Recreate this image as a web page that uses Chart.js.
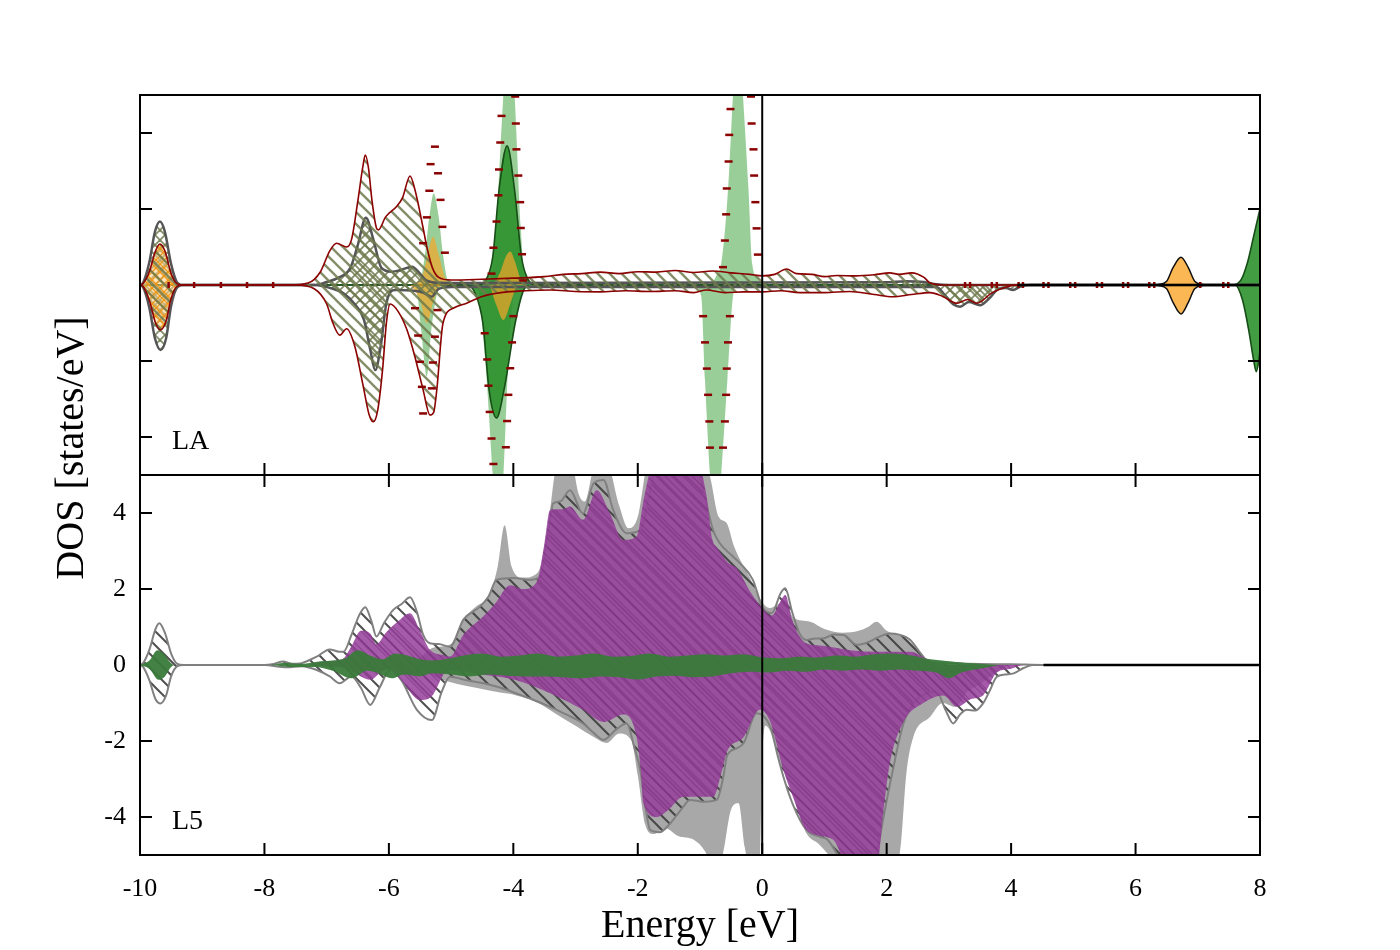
<!DOCTYPE html>
<html><head><meta charset="utf-8">
<script src="https://cdn.jsdelivr.net/npm/chart.js@4.4.1/dist/chart.umd.min.js"></script>
<style>
html,body{margin:0;padding:0;background:#fff;}
#wrap{position:relative;width:1400px;height:950px;overflow:hidden;}
canvas{position:absolute;left:0;top:0;}
.lbl{position:absolute;font-family:"Liberation Serif","Times New Roman",serif;color:#000;white-space:nowrap;}
</style></head><body>
<div id="wrap">
<canvas id="cTop" width="1400" height="950"></canvas>
<canvas id="cBot" width="1400" height="950"></canvas>
<div class="lbl" style="left:-80px;top:424px;width:300px;height:48px;line-height:48px;text-align:center;font-size:40px;transform:rotate(-90deg);">DOS [states/eV]</div>
<div class="lbl" style="left:172px;top:423px;font-size:28px;line-height:34px;">LA</div>
<div class="lbl" style="left:172px;top:803px;font-size:28px;line-height:34px;">L5</div>
</div>
<script>
// ---------- tick values ----------
const xTicks = [-10, -8, -6, -4, -2, 0, 2, 4, 6, 8];
const yTicks = [-4, -2, 0, 2, 4];

// ---------- LA panel (top) ----------
const laTotUp = [[-10,0],[-9.95,0.04],[-9.85,0.35],[-9.75,0.9],[-9.68,1.08],[-9.6,0.9],[-9.5,0.3],[-9.4,0.03],[-9.3,0],[-7.6,0],[-7.3,0.05],[-7.1,0.35],[-6.95,0.9],[-6.84,1.1],[-6.68,1.0],[-6.6,1.2],[-6.5,2.2],[-6.42,3.1],[-6.38,3.42],[-6.33,3.1],[-6.27,2.2],[-6.2,1.5],[-6.17,1.45],[-6.05,1.8],[-5.88,2.06],[-5.78,2.3],[-5.66,2.87],[-5.58,2.5],[-5.45,1.5],[-5.39,1.0],[-5.3,0.45],[-5.2,0.2],[-5.0,0.13],[-4.5,0.15],[-4.0,0.18],[-3.5,0.22],[-3.2,0.28],[-2.9,0.3],[-2.6,0.34],[-2.3,0.3],[-2.0,0.35],[-1.7,0.34],[-1.4,0.38],[-1.1,0.33],[-0.8,0.37],[-0.5,0.32],[-0.2,0.28],[0,0.24],[0.2,0.28],[0.39,0.42],[0.55,0.3],[0.8,0.28],[1.0,0.22],[1.2,0.25],[1.5,0.24],[1.8,0.27],[2.05,0.32],[2.2,0.28],[2.4,0.32],[2.6,0.2],[2.7,0.05],[2.9,0],[8,0]];
const laTotDn = [[-10,0],[-9.95,-0.04],[-9.85,-0.4],[-9.75,-1.0],[-9.67,-1.18],[-9.58,-0.95],[-9.5,-0.35],[-9.4,-0.03],[-9.3,0],[-7.5,0],[-7.2,-0.1],[-7.0,-0.5],[-6.9,-1.0],[-6.79,-1.32],[-6.68,-1.15],[-6.55,-1.6],[-6.42,-2.6],[-6.32,-3.4],[-6.25,-3.6],[-6.18,-3.3],[-6.1,-2.2],[-6.04,-1.0],[-5.98,-0.5],[-5.85,-0.7],[-5.71,-1.18],[-5.58,-1.9],[-5.45,-2.76],[-5.34,-3.42],[-5.28,-3.35],[-5.23,-2.76],[-5.13,-1.0],[-4.95,-0.6],[-4.75,-0.48],[-4.5,-0.3],[-4.2,-0.2],[-3.8,-0.15],[-3.4,-0.13],[-3.0,-0.17],[-2.6,-0.18],[-2.2,-0.15],[-1.8,-0.17],[-1.4,-0.15],[-1.1,-0.2],[-0.9,-0.13],[-0.6,-0.2],[-0.3,-0.18],[0,-0.18],[0.3,-0.15],[0.6,-0.2],[1.0,-0.2],[1.4,-0.17],[1.8,-0.25],[2.1,-0.31],[2.4,-0.25],[2.7,-0.2],[2.9,-0.3],[3.13,-0.48],[3.3,-0.38],[3.45,-0.48],[3.7,-0.2],[4.1,0],[8,0]];
const laPdUp = [[-10,0],[-9.95,0.06],[-9.85,0.6],[-9.76,1.4],[-9.68,1.67],[-9.6,1.4],[-9.5,0.55],[-9.4,0.06],[-9.3,0],[-7.2,0],[-7.0,0.08],[-6.8,0.2],[-6.62,0.45],[-6.5,1.05],[-6.37,1.77],[-6.25,1.2],[-6.12,0.45],[-5.95,0.35],[-5.8,0.4],[-5.63,0.48],[-5.5,0.3],[-5.4,0.12],[-5.2,0.06],[-4.5,0.05],[2.0,0.07],[2.3,0.1],[2.6,0.08],[2.8,0.02],[3.0,0],[8,0]];
const laPdDn = [[-10,0],[-9.95,-0.06],[-9.85,-0.6],[-9.76,-1.4],[-9.67,-1.71],[-9.58,-1.4],[-9.5,-0.55],[-9.4,-0.06],[-9.3,0],[-7.2,0],[-6.9,-0.1],[-6.73,-0.22],[-6.55,-0.5],[-6.4,-0.92],[-6.3,-1.7],[-6.22,-2.24],[-6.13,-1.6],[-6.04,-0.48],[-5.9,-0.13],[-5.6,-0.15],[-5.45,-0.2],[-5.31,-0.31],[-5.2,-0.1],[-5.0,-0.05],[2.8,-0.05],[2.95,-0.3],[3.08,-0.52],[3.18,-0.57],[3.32,-0.45],[3.5,-0.53],[3.65,-0.35],[3.8,-0.1],[3.92,-0.08],[4.03,-0.13],[4.15,-0.04],[4.3,0],[8,0]];
const laLgUp = [[-10,0],[-5.6,0],[-5.5,0.1],[-5.42,0.8],[-5.35,1.8],[-5.28,2.41],[-5.2,1.8],[-5.13,0.8],[-5.05,0.1],[-4.95,0],[-4.5,0],[-4.37,0.13],[-4.28,1.5],[-4.16,5],[-4.07,7],[-3.98,5],[-3.88,1.5],[-3.81,0.13],[-3.7,0],[-0.85,0],[-0.72,0.3],[-0.66,0.55],[-0.55,2.5],[-0.47,5],[-0.39,7],[-0.31,5],[-0.22,2.5],[-0.16,0.55],[-0.08,0.2],[0,0],[8,0]];
const laLgDn = [[-10,0],[-5.65,0],[-5.55,-0.2],[-5.48,-1.2],[-5.39,-2.41],[-5.32,-1.2],[-5.22,-0.2],[-5.1,0],[-4.7,0],[-4.57,-0.13],[-4.45,-2],[-4.33,-5],[-4.25,-7],[-4.16,-5],[-4.08,-2],[-3.98,-0.13],[-3.9,0],[-1.1,0],[-0.98,-0.3],[-0.92,-2.5],[-0.84,-5],[-0.75,-7],[-0.66,-5],[-0.56,-2.5],[-0.47,-0.3],[-0.4,0],[8,0]];
const laDgUp = [[-10,0],[-4.55,0],[-4.42,0.2],[-4.33,0.75],[-4.23,2.5],[-4.1,3.66],[-3.98,2.5],[-3.87,0.75],[-3.78,0.2],[-3.65,0],[7.55,0],[7.7,0.15],[7.8,0.6],[7.9,1.3],[8,2.0]];
const laDgDn = [[-10,0],[-4.75,0],[-4.62,-0.2],[-4.49,-1.0],[-4.39,-2.76],[-4.27,-3.5],[-4.15,-2.76],[-3.97,-1.0],[-3.85,-0.2],[-3.75,0],[7.6,0],[7.72,-0.4],[7.82,-1.2],[7.9,-2.0],[7.94,-2.28],[7.98,-2.0],[8,-1.7]];
const laOrA_Up = [[-10,0],[-9.95,0.04],[-9.85,0.35],[-9.75,0.9],[-9.68,1.08],[-9.6,0.9],[-9.5,0.3],[-9.4,0.03],[-9.3,0]];
const laOrA_Dn = [[-10,0],[-9.95,-0.04],[-9.85,-0.4],[-9.75,-1.0],[-9.67,-1.18],[-9.58,-0.95],[-9.5,-0.35],[-9.4,-0.03],[-9.3,0]];
const laOrB_Up = [[-5.6,0],[-5.45,0.3],[-5.35,1.0],[-5.29,1.27],[-5.2,0.8],[-5.1,0.2],[-5.0,0],[-4.35,0],[-4.22,0.3],[-4.12,0.75],[-4.05,0.88],[-3.97,0.6],[-3.88,0.15],[-3.8,0]];
const laOrB_Dn = [[-5.65,0],[-5.5,-0.4],[-5.39,-1.0],[-5.28,-0.4],[-5.15,0],[-4.4,0],[-4.28,-0.5],[-4.16,-0.92],[-4.05,-0.5],[-3.95,0]];
const laOrC_Up = [[6.35,0],[6.5,0.1],[6.6,0.45],[6.73,0.73],[6.85,0.45],[6.95,0.1],[7.1,0]];
const laOrC_Dn = [[6.35,0],[6.5,-0.1],[6.6,-0.45],[6.73,-0.76],[6.85,-0.45],[6.95,-0.1],[7.1,0]];
const laDashH = [[-0.51,4.63],[-0.53,3.95],[-0.54,3.25],[-0.57,2.54],[-0.58,1.86],[-0.60,1.17],[-0.63,0.47],[-0.18,4.96],[-0.17,4.25],[-0.14,3.57],[-0.13,2.88],[-0.11,2.18],[-0.09,1.49],[-0.07,0.80],[-0.95,-0.82],[-0.92,-1.51],[-0.89,-2.20],[-0.87,-2.89],[-0.85,-3.59],[-0.84,-4.28],[-0.52,-0.82],[-0.55,-1.51],[-0.57,-2.20],[-0.58,-2.89],[-0.60,-3.59],[-0.63,-4.28],[-4.19,4.45],[-4.21,3.75],[-4.23,3.04],[-4.24,2.36],[-4.27,1.67],[-4.32,0.98],[-4.35,0.30],[-3.97,4.96],[-3.96,4.25],[-3.95,3.57],[-3.92,2.88],[-3.89,2.18],[-3.88,1.50],[-3.86,0.81],[-3.84,0.12],[-4.46,-1.27],[-4.42,-1.96],[-4.40,-2.65],[-4.38,-3.34],[-4.35,-4.04],[-4.32,-4.71],[-4.0,-0.82],[-4.02,-1.51],[-4.05,-2.19],[-4.08,-2.89],[-4.10,-3.58],[-4.12,-4.27],[-5.26,3.64],[-5.33,3.18],[-5.21,2.94],[-5.35,2.48],[-5.17,2.24],[-5.39,1.78],[-5.14,1.53],[-5.45,1.10],[-5.10,0.85],[-5.58,-0.61],[-5.22,-0.66],[-5.53,-1.33],[-5.26,-1.36],[-5.50,-2.02],[-5.29,-2.04],[-5.47,-2.68],[-5.31,-2.72],[-5.45,-3.38]];
const laDashV = [[-9.54,0],[-9.13,0],[-8.70,0],[-8.28,0],[-7.86,0],[3.26,0],[3.34,0],[3.69,0],[3.77,0],[4.12,0],[4.19,0],[4.52,0],[4.60,0],[4.95,0],[5.03,0],[5.38,0],[5.46,0],[5.80,0],[5.88,0],[6.22,0],[6.30,0],[7.04,0],[7.41,0],[7.49,0]];
const laZero = [[4.1,0],[8,0]];

// ---------- L5 panel (bottom) ----------
const l5TotUp = [[-5.6,0],[-5.3,0.45],[-5.0,0.55],[-4.8,1.2],[-4.59,1.55],[-4.4,1.8],[-4.25,2.6],[-4.14,3.68],[-4.03,2.6],[-3.85,2.3],[-3.6,2.45],[-3.45,3.6],[-3.3,5.3],[-3.1,5.6],[-2.95,4.5],[-2.85,4.3],[-2.7,5.2],[-2.5,5.3],[-2.3,4.2],[-2.15,3.6],[-2.0,3.9],[-1.85,5.3],[-1.5,6],[-1.1,6],[-0.84,4.96],[-0.7,3.9],[-0.57,3.73],[-0.45,3.11],[-0.2,2.3],[0,1.65],[0.12,1.5],[0.25,1.6],[0.37,1.7],[0.5,1.25],[0.77,1.14],[1.0,0.95],[1.3,0.85],[1.55,0.9],[1.7,1.0],[1.84,1.14],[2.0,0.9],[2.3,0.72],[2.5,0.4],[2.65,0.1],[2.8,0],[8,0]];
const l5TotDn = [[-5.6,0],[-5.2,-0.35],[-4.9,-0.5],[-4.6,-0.6],[-4.3,-0.7],[-3.95,-0.8],[-3.6,-1.0],[-3.3,-1.3],[-3.0,-1.6],[-2.7,-1.9],[-2.5,-2.05],[-2.3,-1.8],[-2.1,-2.0],[-2.0,-2.9],[-1.88,-4.2],[-1.75,-4.45],[-1.55,-4.3],[-1.35,-4.5],[-1.1,-4.6],[-0.92,-4.9],[-0.75,-5.5],[-0.63,-4.96],[-0.5,-3.8],[-0.38,-3.64],[-0.28,-4.8],[-0.15,-5.6],[-0.04,-5.2],[0.0,-2.5],[0.05,-1.6],[0.13,-1.75],[0.25,-2.4],[0.45,-3.2],[0.7,-4.4],[0.9,-4.7],[1.2,-5.2],[1.6,-5.5],[2.0,-5.5],[2.21,-4.96],[2.32,-2.8],[2.43,-1.89],[2.7,-1.36],[2.9,-1.0],[3.1,-1.1],[3.3,-0.7],[3.5,-0.5],[3.8,-0.15],[4.0,0],[8,0]];
const l5HatUp = [[-10,0],[-9.95,0.05],[-9.85,0.4],[-9.75,0.95],[-9.69,1.10],[-9.6,0.85],[-9.5,0.3],[-9.4,0.03],[-9.3,0],[-8.0,0],[-7.85,0.03],[-7.7,0.09],[-7.55,0.03],[-7.4,0.05],[-7.16,0.22],[-6.95,0.41],[-6.8,0.35],[-6.73,0.35],[-6.6,0.8],[-6.48,1.3],[-6.38,1.52],[-6.28,1.15],[-6.2,0.75],[-6.08,1.1],[-5.93,1.45],[-5.8,1.6],[-5.66,1.78],[-5.55,1.4],[-5.45,0.8],[-5.34,0.57],[-5.2,0.55],[-5.02,0.48],[-4.8,1.2],[-4.54,1.53],[-4.4,1.8],[-4.27,2.24],[-4.0,2.29],[-3.73,2.24],[-3.57,2.32],[-3.45,3.4],[-3.36,4.25],[-3.25,4.3],[-3.09,4.6],[-2.88,3.99],[-2.71,4.78],[-2.55,4.87],[-2.4,4.1],[-2.18,3.47],[-1.96,3.55],[-1.75,4.96],[-1.5,5.8],[-1.2,5.8],[-1.0,4.96],[-0.79,3.55],[-0.68,3.2],[-0.5,2.9],[-0.36,2.68],[-0.15,2.24],[0,1.53],[0.15,1.36],[0.3,1.9],[0.37,2.02],[0.48,1.4],[0.6,0.83],[0.71,0.66],[0.85,0.7],[0.98,0.70],[1.15,0.8],[1.31,0.79],[1.52,0.53],[1.7,0.6],[1.85,0.72],[2.05,0.83],[2.2,0.8],[2.38,0.66],[2.55,0.3],[2.7,0.06],[3.02,0.06],[3.3,0.03],[4.0,0.02],[4.52,0],[8,0]];
const l5HatDn = [[-10,0],[-9.95,-0.05],[-9.85,-0.4],[-9.75,-0.9],[-9.67,-1.01],[-9.58,-0.8],[-9.5,-0.3],[-9.4,-0.03],[-9.3,0],[-8.0,0],[-7.64,-0.06],[-7.4,-0.03],[-7.16,-0.13],[-6.95,-0.3],[-6.79,-0.48],[-6.6,-0.3],[-6.45,-0.6],[-6.3,-1.05],[-6.15,-0.6],[-5.98,-0.13],[-5.8,-0.4],[-5.55,-1.18],[-5.31,-1.45],[-5.15,-0.7],[-5.02,-0.31],[-4.75,-0.4],[-4.48,-0.48],[-4.2,-0.6],[-3.95,-0.75],[-3.7,-0.9],[-3.41,-1.1],[-3.15,-1.3],[-2.88,-1.54],[-2.7,-1.8],[-2.55,-1.97],[-2.35,-1.7],[-2.18,-1.54],[-2.05,-2.2],[-1.96,-2.76],[-1.88,-3.7],[-1.8,-4.34],[-1.65,-4.4],[-1.48,-4.17],[-1.3,-3.8],[-1.16,-3.55],[-0.95,-3.6],[-0.73,-3.55],[-0.62,-2.9],[-0.57,-2.41],[-0.42,-2.2],[-0.3,-2.06],[-0.09,-1.27],[0.13,-1.62],[0.25,-2.4],[0.34,-2.94],[0.5,-3.7],[0.71,-4.34],[0.93,-4.52],[1.05,-4.6],[1.2,-4.96],[1.4,-5.4],[1.7,-5.6],[1.84,-5.0],[1.95,-4.0],[2.1,-2.76],[2.27,-1.54],[2.48,-0.92],[2.65,-0.75],[2.8,-0.70],[2.95,-1.2],[3.07,-1.54],[3.18,-1.3],[3.29,-1.18],[3.42,-1.2],[3.55,-1.01],[3.65,-0.7],[3.77,-0.31],[3.9,-0.25],[4.04,-0.22],[4.2,-0.08],[4.35,0],[8,0]];
const l5PurUp = [[-7.3,0],[-7.0,0.1],[-6.75,0.15],[-6.6,0.5],[-6.45,0.9],[-6.3,0.83],[-6.2,0.55],[-6.05,0.85],[-5.85,1.15],[-5.66,1.36],[-5.5,0.9],[-5.34,0.4],[-5.1,0.25],[-5.02,0.22],[-4.8,0.8],[-4.49,1.27],[-4.3,1.6],[-4.05,2.1],[-3.85,2.0],[-3.62,2.2],[-3.5,3.2],[-3.41,4.08],[-3.2,4.1],[-3.09,4.17],[-2.88,3.82],[-2.66,4.6],[-2.45,4.0],[-2.23,3.29],[-2.02,3.38],[-1.9,4.4],[-1.8,5.1],[-1.5,5.6],[-1.1,5.6],[-0.9,4.5],[-0.8,3.3],[-0.73,3.1],[-0.55,2.7],[-0.41,2.55],[-0.2,1.95],[0,1.5],[0.15,1.3],[0.3,1.7],[0.37,1.84],[0.48,1.2],[0.6,0.75],[0.71,0.57],[1.0,0.5],[1.41,0.39],[1.84,0.35],[2.38,0.35],[2.6,0.2],[2.8,0.05],[3.0,0],[8,0]];
const l5PurDn = [[-7.3,0],[-7.0,-0.03],[-6.7,-0.08],[-6.45,-0.3],[-6.3,-0.39],[-6.1,-0.15],[-6.0,-0.1],[-5.8,-0.4],[-5.5,-0.92],[-5.3,-0.8],[-5.1,-0.2],[-5.0,-0.13],[-4.5,-0.25],[-3.95,-0.4],[-3.4,-0.75],[-2.88,-1.18],[-2.55,-1.5],[-2.23,-1.3],[-2.02,-1.89],[-1.95,-2.8],[-1.91,-3.64],[-1.7,-4.0],[-1.5,-3.8],[-1.27,-3.47],[-0.79,-3.47],[-0.65,-2.8],[-0.57,-2.3],[-0.3,-1.9],[-0.04,-1.18],[0.13,-1.5],[0.34,-2.76],[0.5,-3.5],[0.71,-4.34],[1.14,-4.6],[1.35,-5.2],[1.84,-5.3],[1.95,-3.8],[2.05,-2.59],[2.27,-1.5],[2.59,-1.0],[2.91,-0.8],[3.13,-1.1],[3.35,-0.9],[3.55,-0.8],[3.77,-0.2],[4.0,-0.1],[4.2,0],[8,0]];
const l5GrnUp = [[-10,0],[-9.85,0.12],[-9.72,0.39],[-9.62,0.3],[-9.52,0.08],[-9.45,0],[-7.9,0],[-7.7,0.05],[-7.4,0.03],[-7.1,0.1],[-6.9,0.12],[-6.7,0.18],[-6.5,0.39],[-6.3,0.25],[-6.1,0.15],[-5.9,0.3],[-5.7,0.25],[-5.5,0.15],[-5.3,0.12],[-5.0,0.18],[-4.8,0.25],[-4.5,0.3],[-4.2,0.22],[-3.9,0.25],[-3.6,0.3],[-3.3,0.22],[-3.0,0.25],[-2.7,0.3],[-2.4,0.22],[-2.1,0.24],[-1.8,0.3],[-1.5,0.22],[-1.2,0.25],[-0.9,0.28],[-0.6,0.25],[-0.3,0.28],[0,0.2],[0.3,0.18],[0.6,0.22],[0.9,0.2],[1.2,0.25],[1.5,0.22],[1.8,0.28],[2.1,0.3],[2.4,0.25],[2.7,0.15],[3.0,0.1],[3.3,0.05],[3.6,0.02],[3.8,0]];
const l5GrnDn = [[-10,0],[-9.85,-0.1],[-9.7,-0.39],[-9.6,-0.3],[-9.5,-0.05],[-9.4,0],[-7.9,0],[-7.6,-0.05],[-7.2,-0.05],[-6.9,-0.15],[-6.6,-0.35],[-6.35,-0.15],[-6.2,-0.2],[-5.95,-0.35],[-5.75,-0.25],[-5.5,-0.3],[-5.3,-0.22],[-5.0,-0.25],[-4.7,-0.3],[-4.4,-0.25],[-4.1,-0.28],[-3.8,-0.3],[-3.5,-0.3],[-3.2,-0.32],[-2.9,-0.35],[-2.6,-0.3],[-2.3,-0.32],[-2.0,-0.38],[-1.7,-0.3],[-1.4,-0.28],[-1.1,-0.32],[-0.8,-0.3],[-0.5,-0.22],[-0.2,-0.18],[0.1,-0.2],[0.4,-0.15],[0.7,-0.18],[1.0,-0.12],[1.3,-0.15],[1.6,-0.12],[1.9,-0.15],[2.2,-0.12],[2.5,-0.15],[2.8,-0.2],[3.0,-0.35],[3.2,-0.2],[3.5,-0.1],[3.8,0]];
const l5Zero = [[4.52,0],[8,0]];
const fermi = [[0,-5],[0,5]];

// ---------- helpers ----------
const FONT = '"Liberation Serif","Times New Roman",serif';
const P = a => a.map(([x, y]) => ({x, y}));

function hatch(ctx, s, lw, color, bg, dirs) {
  const c = document.createElement('canvas'); c.width = s; c.height = s;
  const g = c.getContext('2d');
  if (bg) { g.fillStyle = bg; g.fillRect(0, 0, s, s); }
  g.strokeStyle = color; g.lineWidth = lw; g.lineCap = 'square';
  for (const d of dirs) {
    for (let k = -1; k <= 1; k++) {
      g.beginPath();
      if (d === '\\') { g.moveTo(k * s, 0); g.lineTo(k * s + s, s); }
      else { g.moveTo(k * s, s); g.lineTo(k * s + s, 0); }
      g.stroke();
    }
  }
  return ctx.createPattern(c, 'repeat');
}
function areaDs(data, bg, border, bw, order) {
  return { data: P(data), fill: 'origin', backgroundColor: bg,
    borderColor: border || 'rgba(0,0,0,0)', borderWidth: bw || 0.01,
    pointRadius: 0, cubicInterpolationMode: 'monotone', order };
}
function lineDs(data, color, bw, order) {
  return { data: P(data), fill: false, borderColor: color, borderWidth: bw,
    pointRadius: 0, tension: 0, order };
}
function markDs(data, rot, r, order) {
  return { data: P(data), showLine: false, pointStyle: 'line', pointRadius: r,
    pointRotation: rot, pointBorderColor: '#8b0000', pointBorderWidth: 2.5,
    borderColor: '#8b0000', backgroundColor: '#8b0000', order };
}

const framePlugin = {
  id: 'frame',
  afterDatasetsDraw(chart, args, opts) {
    const {ctx, chartArea: a, scales: {x, y}} = chart;
    ctx.save();
    ctx.strokeStyle = '#000'; ctx.lineWidth = 2;
    ctx.beginPath();
    for (const t of y.ticks) {
      if (t.value === 0) continue;
      const py = y.getPixelForValue(t.value);
      ctx.moveTo(a.left, py); ctx.lineTo(a.left + 12, py);
      ctx.moveTo(a.right, py); ctx.lineTo(a.right - 12, py);
    }
    for (const t of x.ticks) {
      const px = x.getPixelForValue(t.value);
      if (px <= a.left + 1 || px >= a.right - 1) continue;
      ctx.moveTo(px, a.bottom); ctx.lineTo(px, a.bottom - 12);
      if (opts.topTicks) { ctx.moveTo(px, a.top); ctx.lineTo(px, a.top + 12); }
    }
    ctx.stroke();
    ctx.strokeRect(a.left, a.top, a.right - a.left, a.bottom - a.top);
    ctx.restore();
  }
};

function opts(isBottom) {
  return {
    responsive: false, animation: false, events: [],
    layout: { padding: { top: isBottom ? 475 : 95, bottom: isBottom ? 0 : 475, left: 0, right: 140 } },
    plugins: { legend: { display: false }, tooltip: { enabled: false }, frame: { topTicks: isBottom } },
    scales: {
      x: {
        type: 'linear', min: -10, max: 8, display: isBottom,
        afterBuildTicks: s => { s.ticks = xTicks.map(v => ({value: v})); },
        afterFit: s => { s.height = isBottom ? 95 : 0; },
        grid: { display: false, drawTicks: false }, border: { display: false },
        ticks: { padding: 19, color: '#000', font: { family: FONT, size: 26 }, maxRotation: 0, autoSkip: false, callback: v => String(v) },
        title: { display: true, text: 'Energy [eV]', color: '#000', font: { family: FONT, size: 40 }, padding: { top: 0, bottom: 0 } }
      },
      y: {
        type: 'linear', min: -5, max: 5,
        afterBuildTicks: s => { s.ticks = yTicks.map(v => ({value: v})); },
        afterFit: s => { s.width = 140; },
        grid: { display: false, drawTicks: false }, border: { display: false },
        ticks: { display: isBottom, padding: 14, color: '#000', font: { family: FONT, size: 26 }, callback: v => String(v) }
      }
    }
  };
}

// ---------- top chart (LA) ----------
const ctxT = document.getElementById('cTop').getContext('2d');
const olive = 'rgba(110,122,78,0.85)';
const pTot = hatch(ctxT, 12, 2.4, olive, null, ['\\']);
const pPd = hatch(ctxT, 10, 1.8, olive, null, ['\\', '/']);
const pOr = hatch(ctxT, 8, 1.4, 'rgba(240,150,20,0.95)', 'rgba(255,205,130,0.55)', ['\\', '/']);
new Chart(ctxT, {
  type: 'line',
  data: { datasets: [
    lineDs(fermi, '#000', 2, 0),
    lineDs(laZero, '#000', 2.5, 1),
    markDs(laDashH, 0, 4, 2),
    markDs(laDashV, 90, 3, 3),
    areaDs(laOrC_Up, 'rgba(250,165,40,0.8)', '#111', 1.5, 4),
    areaDs(laOrC_Dn, 'rgba(250,165,40,0.8)', '#111', 1.5, 4),
    areaDs(laTotUp, pTot, '#8b0000', 1.6, 5),
    areaDs(laTotDn, pTot, '#8b0000', 1.6, 5),
    areaDs(laOrA_Up, pOr, null, 0, 6),
    areaDs(laOrA_Dn, pOr, null, 0, 6),
    areaDs(laPdUp, pPd, '#555555', 2.5, 7),
    areaDs(laPdDn, pPd, '#555555', 2.5, 7),
    areaDs(laOrB_Up, 'rgba(245,165,40,0.7)', null, 0, 8),
    areaDs(laOrB_Dn, 'rgba(245,165,40,0.7)', null, 0, 8),
    areaDs(laDgUp, 'rgba(45,145,45,0.9)', '#174d17', 1.6, 9),
    areaDs(laDgDn, 'rgba(45,145,45,0.9)', '#174d17', 1.6, 9),
    areaDs(laLgUp, 'rgba(110,185,110,0.7)', null, 0, 10),
    areaDs(laLgDn, 'rgba(110,185,110,0.7)', null, 0, 10)
  ]},
  options: opts(false),
  plugins: [framePlugin]
});

// ---------- bottom chart (L5) ----------
const ctxB = document.getElementById('cBot').getContext('2d');
const pHat = hatch(ctxB, 14, 2, 'rgba(60,60,60,0.9)', null, ['\\']);
const pPur = hatch(ctxB, 9, 1.2, 'rgba(100,35,105,0.4)', 'rgba(150,62,155,0.85)', ['\\']);
new Chart(ctxB, {
  type: 'line',
  data: { datasets: [
    lineDs(fermi, '#000', 2, 0),
    lineDs(l5Zero, '#000', 2.5, 1),
    areaDs(l5GrnUp, 'rgba(58,122,58,0.95)', null, 0, 2),
    areaDs(l5GrnDn, 'rgba(58,122,58,0.95)', null, 0, 2),
    areaDs(l5PurUp, pPur, null, 0, 3),
    areaDs(l5PurDn, pPur, null, 0, 3),
    areaDs(l5HatUp, pHat, '#808080', 2, 4),
    areaDs(l5HatDn, pHat, '#808080', 2, 4),
    areaDs(l5TotUp, '#a8a8a8', null, 0, 5),
    areaDs(l5TotDn, '#a8a8a8', null, 0, 5)
  ]},
  options: opts(true),
  plugins: [framePlugin]
});
</script>
</body></html>
